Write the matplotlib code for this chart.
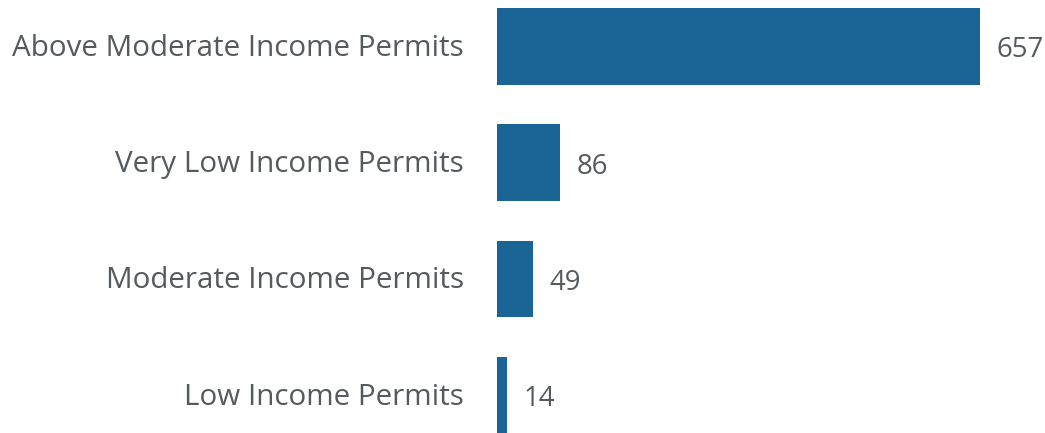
import matplotlib
matplotlib.use("Agg")
import matplotlib.pyplot as plt
import matplotlib.transforms as mtransforms

categories = ["Above Moderate Income Permits", "Very Low Income Permits",
              "Moderate Income Permits", "Low Income Permits"]
permits = [657, 86, 49, 14]

bar_color = "#1a6496"
text_color = "#555a5e"

W, H = 1045, 433
fig = plt.figure(figsize=(W / 100, H / 100), dpi=100)
# axes spans bar area in pixels: x 497..980, full height
ax = fig.add_axes([497 / W, 0, (980 - 497) / W, 1])

y = list(range(len(categories)))
ax.barh(y, permits, height=0.66, color=bar_color)
ax.set_xlim(0, 657)
ax.set_ylim(3.326, -0.4)

for yi, v in zip(y, permits):
    ax.annotate(str(v), (v, yi), xytext=(16, -4), textcoords="offset pixels",
                ha="left", va="center", fontsize=19.8, color=text_color,
                family="Open Sans")

ax.set_yticks(y)
ax.set_yticklabels(categories, fontsize=21.3, color=text_color, family="Open Sans",
                   va="center")
ax.tick_params(axis="y", length=0, pad=24)
ax.set_xticks([])
for s in ax.spines.values():
    s.set_visible(False)

# nudge category labels down a couple of pixels
shift = mtransforms.ScaledTranslation(0, -2 / 100, fig.dpi_scale_trans)
for lbl in ax.get_yticklabels():
    lbl.set_transform(lbl.get_transform() + shift)

fig.savefig("out.png", dpi=100)
